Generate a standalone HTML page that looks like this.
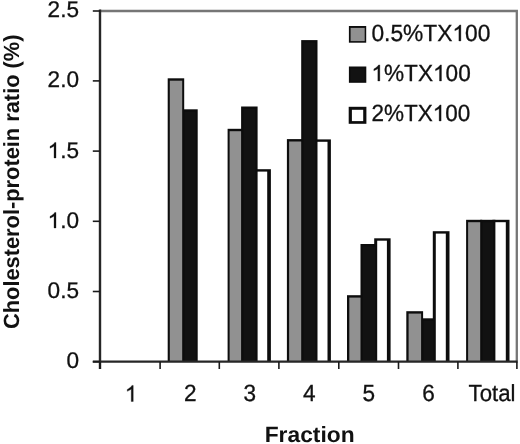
<!DOCTYPE html>
<html><head><meta charset="utf-8"><style>
html,body{margin:0;padding:0;background:#fff;}
body{width:520px;height:444px;overflow:hidden;}
svg{display:block;will-change:transform;text-rendering:geometricPrecision;}
.t{font-family:"Liberation Sans",sans-serif;font-size:22.6px;fill:#111;stroke:#111;stroke-width:0.3;}
.h{fill:none;stroke:none;}
.o{fill:#111;stroke:#111;stroke-width:0.3;}
.b{font-family:"Liberation Sans",sans-serif;font-size:22px;font-weight:bold;fill:#111;}
</style></head><body>
<svg width="520" height="444" viewBox="0 0 520 444">
<path d="M100 11.0 H516.8 V361.70" fill="none" stroke="#767676" stroke-width="2.3"/>
<rect x="167.70" y="78.30" width="16.50" height="283.40" fill="#0d0d0d"/>
<rect x="182.20" y="109.30" width="15.50" height="252.40" fill="#0d0d0d"/>
<rect x="169.80" y="80.70" width="12.40" height="281.00" fill="#919191"/>
<rect x="184.40" y="111.70" width="11.40" height="250.00" fill="#121212"/>
<rect x="227.60" y="128.80" width="15.50" height="232.90" fill="#0d0d0d"/>
<rect x="241.10" y="106.50" width="16.50" height="255.20" fill="#0d0d0d"/>
<rect x="254.60" y="169.20" width="16.30" height="192.50" fill="#0d0d0d"/>
<rect x="229.60" y="131.20" width="11.50" height="230.50" fill="#919191"/>
<rect x="243.30" y="108.90" width="12.10" height="252.80" fill="#121212"/>
<rect x="257.60" y="171.60" width="9.60" height="190.10" fill="#ffffff"/>
<rect x="286.90" y="139.10" width="16.30" height="222.60" fill="#0d0d0d"/>
<rect x="301.20" y="40.10" width="16.30" height="321.60" fill="#0d0d0d"/>
<rect x="314.50" y="139.40" width="16.40" height="222.30" fill="#0d0d0d"/>
<rect x="289.10" y="141.50" width="12.10" height="220.20" fill="#919191"/>
<rect x="303.40" y="42.50" width="11.90" height="319.20" fill="#121212"/>
<rect x="317.50" y="141.80" width="10.00" height="219.90" fill="#ffffff"/>
<rect x="347.00" y="295.20" width="15.50" height="66.50" fill="#0d0d0d"/>
<rect x="360.50" y="244.00" width="16.70" height="117.70" fill="#0d0d0d"/>
<rect x="374.20" y="238.30" width="16.40" height="123.40" fill="#0d0d0d"/>
<rect x="349.30" y="297.60" width="11.20" height="64.10" fill="#919191"/>
<rect x="362.70" y="246.40" width="12.30" height="115.30" fill="#121212"/>
<rect x="377.20" y="240.70" width="9.70" height="121.00" fill="#ffffff"/>
<rect x="406.30" y="311.20" width="16.80" height="50.50" fill="#0d0d0d"/>
<rect x="421.10" y="318.30" width="14.70" height="43.40" fill="#0d0d0d"/>
<rect x="432.80" y="231.20" width="16.70" height="130.50" fill="#0d0d0d"/>
<rect x="408.60" y="313.60" width="12.50" height="48.10" fill="#919191"/>
<rect x="423.30" y="320.70" width="10.30" height="41.00" fill="#121212"/>
<rect x="435.80" y="233.60" width="10.00" height="128.10" fill="#ffffff"/>
<rect x="466.10" y="219.80" width="16.10" height="141.90" fill="#0d0d0d"/>
<rect x="480.20" y="219.80" width="15.20" height="141.90" fill="#0d0d0d"/>
<rect x="492.40" y="219.80" width="17.10" height="141.90" fill="#0d0d0d"/>
<rect x="468.10" y="222.20" width="12.10" height="139.50" fill="#919191"/>
<rect x="482.40" y="222.20" width="10.80" height="139.50" fill="#121212"/>
<rect x="495.40" y="222.20" width="10.40" height="139.50" fill="#ffffff"/>
<line x1="100" y1="9.6" x2="100" y2="369" stroke="#262626" stroke-width="2.4"/>
<line x1="92.8" y1="361.6" x2="517.6" y2="361.6" stroke="#262626" stroke-width="2.2"/>
<line x1="92.8" y1="361.70" x2="100" y2="361.70" stroke="#1a1a1a" stroke-width="1.6"/>
<line x1="92.8" y1="291.50" x2="100" y2="291.50" stroke="#1a1a1a" stroke-width="1.6"/>
<line x1="92.8" y1="221.30" x2="100" y2="221.30" stroke="#1a1a1a" stroke-width="1.6"/>
<line x1="92.8" y1="151.10" x2="100" y2="151.10" stroke="#1a1a1a" stroke-width="1.6"/>
<line x1="92.8" y1="80.90" x2="100" y2="80.90" stroke="#1a1a1a" stroke-width="1.6"/>
<line x1="92.8" y1="11.00" x2="100" y2="11.00" stroke="#1a1a1a" stroke-width="1.6"/>
<line x1="100.00" y1="361.70" x2="100.00" y2="369" stroke="#1a1a1a" stroke-width="1.6"/>
<line x1="160.10" y1="361.70" x2="160.10" y2="369" stroke="#1a1a1a" stroke-width="1.6"/>
<line x1="219.30" y1="361.70" x2="219.30" y2="369" stroke="#1a1a1a" stroke-width="1.6"/>
<line x1="278.90" y1="361.70" x2="278.90" y2="369" stroke="#1a1a1a" stroke-width="1.6"/>
<line x1="338.80" y1="361.70" x2="338.80" y2="369" stroke="#1a1a1a" stroke-width="1.6"/>
<line x1="398.50" y1="361.70" x2="398.50" y2="369" stroke="#1a1a1a" stroke-width="1.6"/>
<line x1="457.90" y1="361.70" x2="457.90" y2="369" stroke="#1a1a1a" stroke-width="1.6"/>
<line x1="516.90" y1="361.70" x2="516.90" y2="369" stroke="#1a1a1a" stroke-width="1.6"/>
<text transform="translate(79.00 368.25) scale(1 1.0)" class="t" text-anchor="end">0</text>
<text transform="translate(79.00 298.35) scale(1 1.0)" class="t" text-anchor="end">0.5</text>
<text transform="translate(79.00 228.00) scale(1 1.0)" class="t" text-anchor="end"><tspan class="h">1</tspan>.0</text>
<path transform="translate(79.00 228.00) scale(1 1.0)" class="o" d="M-23.00 0.00L-24.98 0.00L-24.98 -12.12Q-25.70 -11.46 -26.87 -10.81Q-28.03 -10.15 -28.96 -9.82L-28.96 -11.66Q-27.29 -12.41 -26.05 -13.48Q-24.81 -14.55 -24.29 -15.55L-23.00 -15.55Z"/>
<text transform="translate(79.00 158.00) scale(1 1.0)" class="t" text-anchor="end"><tspan class="h">1</tspan>.5</text>
<path transform="translate(79.00 158.00) scale(1 1.0)" class="o" d="M-23.00 0.00L-24.98 0.00L-24.98 -12.12Q-25.70 -11.46 -26.87 -10.81Q-28.03 -10.15 -28.96 -9.82L-28.96 -11.66Q-27.29 -12.41 -26.05 -13.48Q-24.81 -14.55 -24.29 -15.55L-23.00 -15.55Z"/>
<text transform="translate(79.00 87.40) scale(1 1.0)" class="t" text-anchor="end">2.0</text>
<text transform="translate(79.00 16.90) scale(1 1.0)" class="t" text-anchor="end">2.5</text>
<text transform="translate(131.09 401.50) scale(1 1.035)" class="t" text-anchor="middle"><tspan class="h">1</tspan></text>
<path transform="translate(131.09 401.50) scale(1 1.035)" class="o" d="M2.14 0.00L0.15 0.00L0.15 -12.12Q-0.57 -11.46 -1.73 -10.81Q-2.90 -10.15 -3.83 -9.82L-3.83 -11.66Q-2.16 -12.41 -0.92 -13.48Q0.33 -14.55 0.84 -15.55L2.14 -15.55Z"/>
<text transform="translate(190.16 401.10) scale(1 1.035)" class="t" text-anchor="middle">2</text>
<text transform="translate(249.73 401.10) scale(1 1.035)" class="t" text-anchor="middle">3</text>
<text transform="translate(309.30 401.10) scale(1 1.035)" class="t" text-anchor="middle">4</text>
<text transform="translate(368.87 401.10) scale(1 1.035)" class="t" text-anchor="middle">5</text>
<text transform="translate(428.44 401.10) scale(1 1.035)" class="t" text-anchor="middle">6</text>
<text transform="translate(468.60 401.40) scale(1 1.035)" class="t" textLength="46.9" lengthAdjust="spacingAndGlyphs">Total</text>
<text transform="translate(371.40 41.00) scale(1 1.035)" class="t" textLength="119.0" lengthAdjust="spacingAndGlyphs">0.5%TX<tspan class="h">1</tspan>00</text>
<path transform="translate(371.40 41.00) scale(1 1.035)" class="o" d="M89.48 0.00L87.48 0.00L87.48 -12.12Q86.76 -11.46 85.58 -10.81Q84.41 -10.15 83.47 -9.82L83.47 -11.66Q85.15 -12.41 86.41 -13.48Q87.66 -14.55 88.18 -15.55L89.48 -15.55Z"/>
<text transform="translate(371.40 81.00) scale(1 1.035)" class="t" textLength="99.4" lengthAdjust="spacingAndGlyphs"><tspan class="h">1</tspan>%TX<tspan class="h">1</tspan>00</text>
<path transform="translate(371.40 81.00) scale(1 1.035)" class="o" d="M8.44 0.00L6.45 0.00L6.45 -12.12Q5.73 -11.46 4.56 -10.81Q3.39 -10.15 2.47 -9.82L2.47 -11.66Q4.14 -12.41 5.38 -13.48Q6.62 -14.55 7.14 -15.55L8.44 -15.55ZM70.07 0.00L68.08 0.00L68.08 -12.12Q67.36 -11.46 66.19 -10.81Q65.03 -10.15 64.10 -9.82L64.10 -11.66Q65.77 -12.41 67.01 -13.48Q68.25 -14.55 68.77 -15.55L70.07 -15.55Z"/>
<text transform="translate(371.40 121.00) scale(1 1.035)" class="t" textLength="98.9" lengthAdjust="spacingAndGlyphs">2%TX<tspan class="h">1</tspan>00</text>
<path transform="translate(371.40 121.00) scale(1 1.035)" class="o" d="M69.71 0.00L67.73 0.00L67.73 -12.12Q67.01 -11.46 65.85 -10.81Q64.69 -10.15 63.77 -9.82L63.77 -11.66Q65.43 -12.41 66.67 -13.48Q67.91 -14.55 68.42 -15.55L69.71 -15.55Z"/>
<rect x="348.90" y="26.00" width="17.30" height="16.70" fill="#0d0d0d"/>
<rect x="350.60" y="27.90" width="14.10" height="13.20" fill="#919191"/>
<rect x="348.90" y="66.50" width="17.40" height="16.30" fill="#0d0d0d"/>
<rect x="350.60" y="68.30" width="14.00" height="12.70" fill="#121212"/>
<rect x="348.70" y="106.80" width="17.70" height="17.00" fill="#0d0d0d"/>
<rect x="351.90" y="109.80" width="11.30" height="11.30" fill="#ffffff"/>
<text transform="translate(264.70 441.90) scale(1 1.0)" class="b" textLength="89.9" lengthAdjust="spacingAndGlyphs">Fraction</text>
<text transform="translate(19.2 329.0) rotate(-90)" class="b" textLength="294.5" lengthAdjust="spacingAndGlyphs">Cholesterol-protein ratio (%)</text>
</svg>
</body></html>
